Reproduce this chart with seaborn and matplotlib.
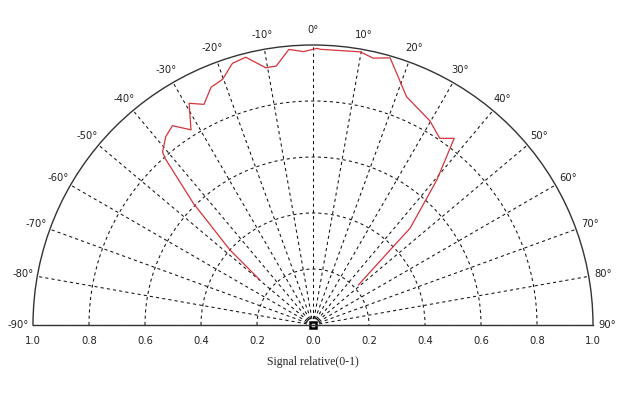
import numpy as np
import pandas as pd
import matplotlib
matplotlib.use('Agg')
import matplotlib.pyplot as plt
import seaborn as sns

angle_deg = [-49.7, -47.9, -44.5, -41.6, -41.0, -38.0, -35.2, -32.0, -29.2, -26.3,
             -23.2, -20.2, -17.1, -14.1, -10.4, -8.1, -5.0, -2.0, 0.8, 1.5,
             9.8, 12.7, 16.1, 22.3, 29.8, 34.2, 37.1, 40.5, 45.1, 45.8, 48.6]
signal = [0.248, 0.40, 0.61, 0.796, 0.819, 0.854, 0.871, 0.822, 0.907, 0.879,
          0.924, 0.935, 0.978, 0.986, 0.934, 0.934, 0.988, 0.977, 0.988, 0.985,
          0.990, 0.977, 0.993, 0.881, 0.840, 0.806, 0.836, 0.681, 0.489, 0.384, 0.216]

theta_ticks = list(range(-90, 91, 10))
theta_labels = [f'{d}°' for d in theta_ticks]
r_grid = [0.2, 0.4, 0.6, 0.8]
r_labels_left = [1.0, 0.8, 0.6, 0.4, 0.2]
r_labels_right = [0.2, 0.4, 0.6, 0.8, 1.0]

sns.set_style('white')
plt.rcParams['font.family'] = ['DejaVu Sans']

df = pd.DataFrame({'theta': np.deg2rad(angle_deg), 'r': signal})

fig = plt.figure(figsize=(6.31, 4.03), dpi=100)
# half-disc sits in the middle of a square box: baseline at 78px from bottom, radius 280px
ax = fig.add_axes([33 / 631, -62 / 403, 560 / 631, 560 / 403], projection='polar')
ax.set_theta_zero_location('N')
ax.set_theta_direction(-1)
ax.set_thetamin(-90)
ax.set_thetamax(90)
ax.set_rlim(0, 1)

sns.lineplot(data=df, x='theta', y='r', ax=ax, sort=False, color='#d6333b',
             linewidth=0.9, estimator=None)

ax.set_thetagrids(theta_ticks, theta_labels, fontsize=7.2, color='#222222')
ax.set_rgrids(r_grid, labels=[])
ax.tick_params(axis='x', pad=0)
ax.grid(True, color='#111111', linestyle=(0, (3, 3)), linewidth=0.75)
for name in ['polar', 'start', 'end']:
    ax.spines[name].set_color('#333333')
    ax.spines[name].set_linewidth(1.0)
ax.set_xlabel('')
ax.set_ylabel('')

# radial values along the base line, mirrored on both sides
for v in r_labels_left:
    ax.annotate(f'{v:.1f}', (-np.pi / 2, v), xytext=(0, -8), textcoords='offset points',
                ha='center', va='top', fontsize=7.2, color='#222222', annotation_clip=False)
for v in r_labels_right:
    ax.annotate(f'{v:.1f}', (np.pi / 2, v), xytext=(0, -8), textcoords='offset points',
                ha='center', va='top', fontsize=7.2, color='#222222', annotation_clip=False)
ax.annotate('0.0', (0, 0), xytext=(0, -8), textcoords='offset points',
            ha='center', va='top', fontsize=7.2, color='#222222', annotation_clip=False)
ax.plot([0], [0], marker='s', markersize=5, markerfacecolor='white',
        markeredgecolor='black', markeredgewidth=1.8, clip_on=False)

fig.text(313 / 631, 1 - 362 / 403, 'Signal relative(0-1)', ha='center', va='center',
         fontsize=8.5, family='Liberation Serif')

fig.savefig('out.png', dpi=100)
